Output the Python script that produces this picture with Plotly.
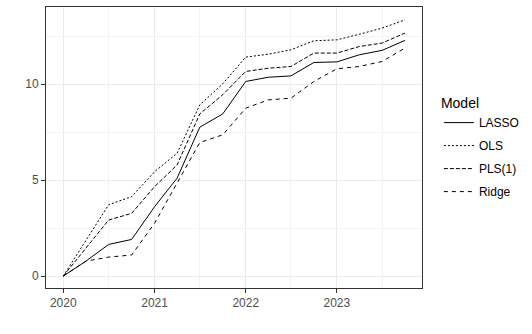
import plotly.graph_objects as go

# quarterly dates
dates = ['2020-01-01', '2020-04-01', '2020-07-01', '2020-10-01',
         '2021-01-01', '2021-04-01', '2021-07-01', '2021-10-01',
         '2022-01-01', '2022-04-01', '2022-07-01', '2022-10-01',
         '2023-01-01', '2023-04-01', '2023-07-01', '2023-10-01']

lasso = [0.0, 0.78, 1.65, 1.91, 3.62, 5.10, 7.76, 8.45,
         10.14, 10.36, 10.43, 11.13, 11.16, 11.53, 11.76, 12.28]
ols = [0.0, 1.87, 3.72, 4.14, 5.44, 6.40, 8.92, 10.02,
       11.41, 11.56, 11.79, 12.26, 12.31, 12.60, 12.92, 13.35]
pls1 = [0.0, 1.46, 2.92, 3.27, 4.66, 5.79, 8.45, 9.45,
        10.66, 10.83, 10.92, 11.62, 11.62, 11.96, 12.14, 12.66]
ridge = [0.0, 0.78, 0.99, 1.10, 2.76, 4.84, 6.96, 7.36,
         8.75, 9.18, 9.27, 10.14, 10.80, 10.92, 11.18, 11.88]

series = [('LASSO', lasso, 'solid'),
          ('OLS', ols, '2px,2px'),
          ('PLS(1)', pls1, '4px,2px'),
          ('Ridge', ridge, '4px,4px')]

fig = go.Figure()

for name, vals, dash in series:
    fig.add_trace(go.Scatter(x=dates, y=vals, name=name, mode='lines', legendgroup=name,
                             line=dict(color='black', width=1, dash=dash)))

fig.update_xaxes(type='date', range=['2019-10-24', '2023-12-08'], automargin=False,
                 dtick='M12', tick0='2020-01-01', tickformat='%Y',
                 showgrid=True, gridcolor='#EBEBEB', gridwidth=1,
                 minor=dict(dtick='M6', showgrid=True, gridcolor='#F3F3F3', gridwidth=0.6),
                 ticks='outside', ticklen=4, tickcolor='#333333',
                 tickfont=dict(size=12, color='#4D4D4D'),
                 showline=True, linecolor='#333333', linewidth=1, mirror=True,
                 zeroline=False)
fig.update_yaxes(range=[-0.62, 14.02], tickvals=[0, 5, 10], automargin=False,
                 showgrid=True, gridcolor='#EBEBEB', gridwidth=1,
                 minor=dict(tickvals=[2.5, 7.5, 12.5], showgrid=True, gridcolor='#F3F3F3', gridwidth=0.6),
                 ticks='outside', ticklen=4, tickcolor='#333333',
                 tickfont=dict(size=12, color='#4D4D4D'),
                 showline=True, linecolor='#333333', linewidth=1, mirror=True,
                 zeroline=False)

fig.update_layout(width=532, height=334,
                  margin=dict(l=46, r=106, t=7, b=46),
                  plot_bgcolor='white', paper_bgcolor='white',
                  font=dict(family='Liberation Sans, Arial', color='black'),
                  showlegend=True,
                  legend=dict(title=dict(text='Model', font=dict(size=14)),
                              font=dict(size=12), x=1.045, xanchor='left',
                              y=0.705, yanchor='top', tracegroupgap=4,
                              itemwidth=30, bgcolor='rgba(0,0,0,0)'))

fig.write_html("out.html", config={'displayModeBar': False},
               post_script="document.body.style.margin='0';")
